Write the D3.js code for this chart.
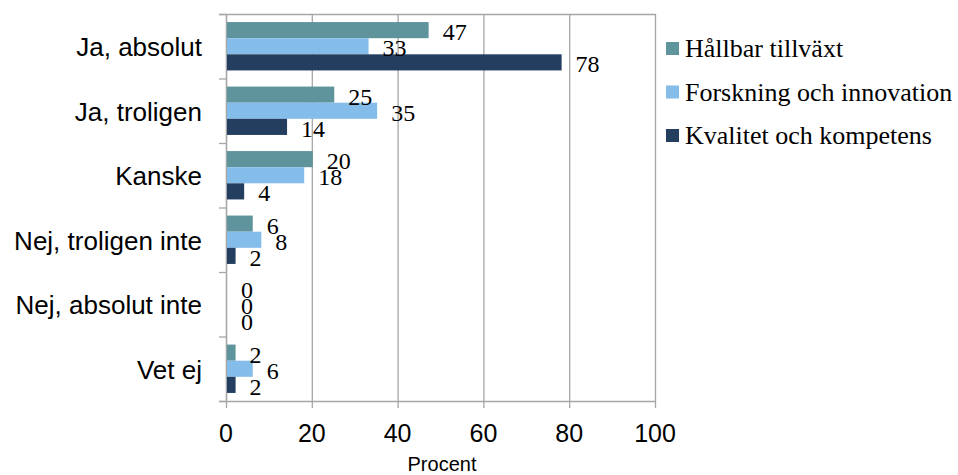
<!DOCTYPE html>
<html>
<head>
<meta charset="utf-8">
<script src="https://cdn.jsdelivr.net/npm/d3@7/dist/d3.min.js"></script>
<style>
  html, body { margin: 0; padding: 0; background: #fff; }
  svg { display: block; }
</style>
</head>
<body>
<svg id="chart" width="958" height="475"></svg>
<script>
// Answer categories (top to bottom)
const categories = ["Ja, absolut", "Ja, troligen", "Kanske", "Nej, troligen inte", "Nej, absolut inte", "Vet ej"];
// Series names
const seriesNames = ["Hållbar tillväxt", "Forskning och innovation", "Kvalitet och kompetens"];
// Percent per category, one list per series
const hallbarTillvaxt = [47, 25, 20, 6, 0, 2];
const forskningInnovation = [33, 35, 18, 8, 0, 6];
const kvalitetKompetens = [78, 14, 4, 2, 0, 2];
// Axis ticks
const xTicks = [0, 20, 40, 60, 80, 100];
const xTitle = "Procent";

const seriesValues = [hallbarTillvaxt, forskningInnovation, kvalitetKompetens];
const colors = ["#5F949C", "#84BCEA", "#243E60"];

const svg = d3.select("#chart");
const plot = { left: 226, right: 655, top: 14, bottom: 401 };
const gridColor = "#A6A6A6";

const x = d3.scaleLinear().domain([0, 100]).range([plot.left, plot.right]);
const y = d3.scaleBand().domain(categories).range([plot.top, plot.bottom]).padding(0);
const inner = d3.scaleBand().domain(seriesNames)
  .range([y.bandwidth() * 0.125, y.bandwidth() * 0.875]).padding(0);

// Vertical gridlines and tick marks below the axis
svg.append("g").selectAll("line").data(xTicks).join("line")
  .attr("x1", d => x(d) + 0.5).attr("x2", d => x(d) + 0.5)
  .attr("y1", plot.top).attr("y2", plot.bottom + 7)
  .attr("stroke", gridColor).attr("stroke-width", 1.3);

// Top border
svg.append("line")
  .attr("x1", plot.left - 7).attr("x2", plot.right + 1)
  .attr("y1", plot.top + 0.5).attr("y2", plot.top + 0.5)
  .attr("stroke", gridColor).attr("stroke-width", 1.3);

// Bottom axis line
svg.append("line")
  .attr("x1", plot.left - 7).attr("x2", plot.right + 1)
  .attr("y1", plot.bottom + 0.5).attr("y2", plot.bottom + 0.5)
  .attr("stroke", gridColor).attr("stroke-width", 1.3);

// Left axis with category separators
const bounds = categories.map(c => y(c)).concat([plot.bottom]);
svg.append("line")
  .attr("x1", plot.left + 0.5).attr("x2", plot.left + 0.5)
  .attr("y1", plot.top).attr("y2", plot.bottom)
  .attr("stroke", gridColor).attr("stroke-width", 1.3);
svg.append("g").selectAll("line").data(bounds).join("line")
  .attr("x1", plot.left - 7).attr("x2", plot.left)
  .attr("y1", d => d + 0.5).attr("y2", d => d + 0.5)
  .attr("stroke", gridColor).attr("stroke-width", 1.3);

// Bars
const rows = [];
seriesNames.forEach((s, si) => {
  categories.forEach((c, ci) => {
    rows.push({ series: s, si, category: c, value: seriesValues[si][ci] });
  });
});

svg.append("g").selectAll("rect").data(rows).join("rect")
  .attr("x", x(0) + 1)
  .attr("y", d => y(d.category) + inner(d.series))
  .attr("width", d => Math.max(0, x(d.value) - x(0)))
  .attr("height", inner.bandwidth())
  .attr("fill", d => colors[d.si]);

// Value labels
svg.append("g").selectAll("text").data(rows).join("text")
  .attr("x", d => x(d.value) + 15)
  .attr("y", d => y(d.category) + inner(d.series) + inner.bandwidth() / 2 + 10)
  .attr("font-family", "'Liberation Serif', 'Times New Roman', serif")
  .attr("font-size", 24)
  .attr("fill", "#000")
  .text(d => d.value);

// Category labels
svg.append("g").selectAll("text").data(categories).join("text")
  .attr("x", 202)
  .attr("y", d => y(d) + y.bandwidth() / 2 + 10)
  .attr("text-anchor", "end")
  .attr("font-family", "'Liberation Sans', Arial, sans-serif")
  .attr("font-size", 26)
  .attr("fill", "#000")
  .text(d => d);

// X tick labels
svg.append("g").selectAll("text").data(xTicks).join("text")
  .attr("x", d => x(d))
  .attr("y", 442)
  .attr("text-anchor", "middle")
  .attr("font-family", "'Liberation Sans', Arial, sans-serif")
  .attr("font-size", 25)
  .attr("fill", "#000")
  .text(d => d);

// X axis title
svg.append("text")
  .attr("x", 442).attr("y", 471)
  .attr("text-anchor", "middle")
  .attr("font-family", "'Liberation Sans', Arial, sans-serif")
  .attr("font-size", 20)
  .attr("fill", "#000")
  .text(xTitle);

// Legend
const legend = svg.append("g").selectAll("g").data(seriesNames).join("g")
  .attr("transform", (d, i) => `translate(666, ${42 + i * 43.5})`);
legend.append("rect")
  .attr("width", 13).attr("height", 13)
  .attr("fill", (d, i) => colors[i]);
legend.append("text")
  .attr("x", 19).attr("y", 15)
  .attr("font-family", "'Liberation Serif', 'Times New Roman', serif")
  .attr("font-size", 26)
  .attr("fill", "#000")
  .text(d => d);
</script>
</body>
</html>
